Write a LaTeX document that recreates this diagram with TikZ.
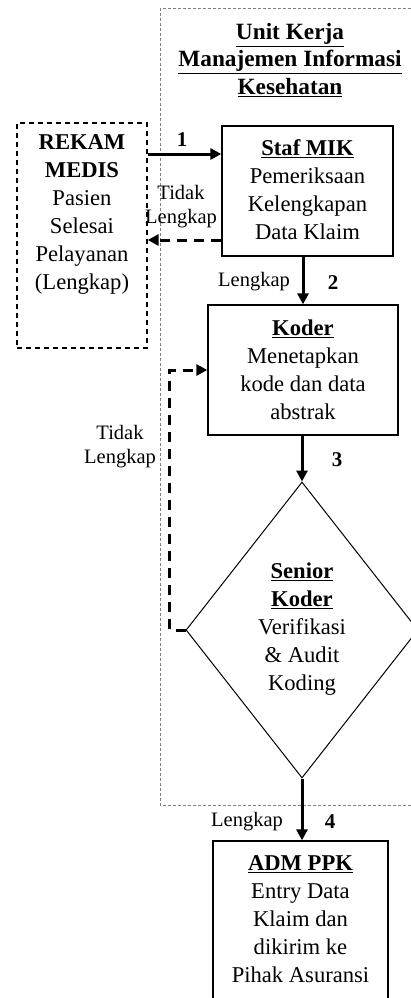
\documentclass[tikz,border=0pt]{standalone}
\usepackage{fontspec}
\setmainfont{Liberation Serif}
\usetikzlibrary{arrows.meta,shapes.geometric,calc}
\begin{document}
\begin{tikzpicture}[x=1pt,y=-1pt,
  box/.style={draw,line width=1.3pt,inner sep=0pt},
  dbox/.style={draw,line width=1.3pt,dash pattern=on 5pt off 4pt,inner sep=0pt},
  txt/.style={align=center,font=\fontsize{22.6}{28}\selectfont,inner sep=0pt},
  lbl/.style={align=center,font=\fontsize{20.5}{24}\selectfont,inner sep=0pt},
  num/.style={font=\bfseries\fontsize{21}{24}\selectfont,inner sep=0pt},
  flow/.style={line width=3pt,-{Triangle[length=11pt,width=11pt]}},
  back/.style={flow,dash pattern=on 10pt off 7pt},
]
\useasboundingbox (0,0) rectangle (411,998);
\draw[gray,line width=0.6pt,dash pattern=on 3pt off 2pt] (160,8) rectangle (416,805);
\node[txt,font=\bfseries\fontsize{23.3}{27.5}\selectfont] (title) at (290,60)
  {\underline{Unit Kerja}\\\underline{Manajemen Informasi}\\\underline{Kesehatan}};
% boxes
\node[dbox,minimum width=130pt,minimum height=225pt] (rekam) at (82,235.5) {};
\node[txt] (rekamt) at (82,214) {\textbf{REKAM}\\\textbf{MEDIS}\\Pasien\\Selesai\\Pelayanan\\(Lengkap)};
\node[box,minimum width=171pt,minimum height=130pt] (staf) at (307.5,191) {};
\node[txt] (staft) at (307.5,190) {\textbf{\underline{Staf MIK}}\\Pemeriksaan\\Kelengkapan\\Data Klaim};
\node[box,minimum width=190pt,minimum height=130pt] (koder) at (303,370) {};
\node[txt] (kodert) at (303,369.5) {\textbf{\underline{Koder}}\\Menetapkan\\kode dan data\\abstrak};
\node[draw,diamond,line width=1pt,inner sep=0pt,minimum width=232pt,minimum height=296pt] (dia) at (302,630) {};
\node[txt] (diat) at (302,629.5) {\textbf{\underline{Senior}}\\\textbf{\underline{Koder}}\\Verifikasi\\\&~Audit\\Koding};
\node[box,minimum width=175pt,minimum height=166pt] (adm) at (300.5,924) {};
\node[txt] (admt) at (300.5,919.5) {\textbf{\underline{ADM PPK}}\\Entry Data\\Klaim dan\\dikirim ke\\Pihak Asuransi};
% connectors
\draw[flow] (rekam.east |- 0,154) -- (staf.west |- 0,154);
\draw[back] (staf.west |- 0,240) -- (rekam.east |- 0,240);
\draw[flow] (koder.north |- staf.south) -- (koder.north);
\draw[flow] (koder.south -| dia.north) -- (dia.north);
\draw[flow] (dia.south) -- (dia.south |- adm.north);
\draw[back] (dia.west) -- ++(-16,0) |- (koder.west);
% labels
\node[num] (n1) at (182,140) {1};
\node[lbl] (l1) at (181,207) {Tidak\\Lengkap};
\node[lbl] (l2) at (254,282) {Lengkap};
\node[num] (n2) at (333,283) {2};
\node[num] (n3) at (337,460) {3};
\node[lbl] (l3) at (120,447) {Tidak\\Lengkap};
\node[lbl] (l4) at (247,822) {Lengkap};
\node[num] (n4) at (330,822) {4};
\end{tikzpicture}
\end{document}
